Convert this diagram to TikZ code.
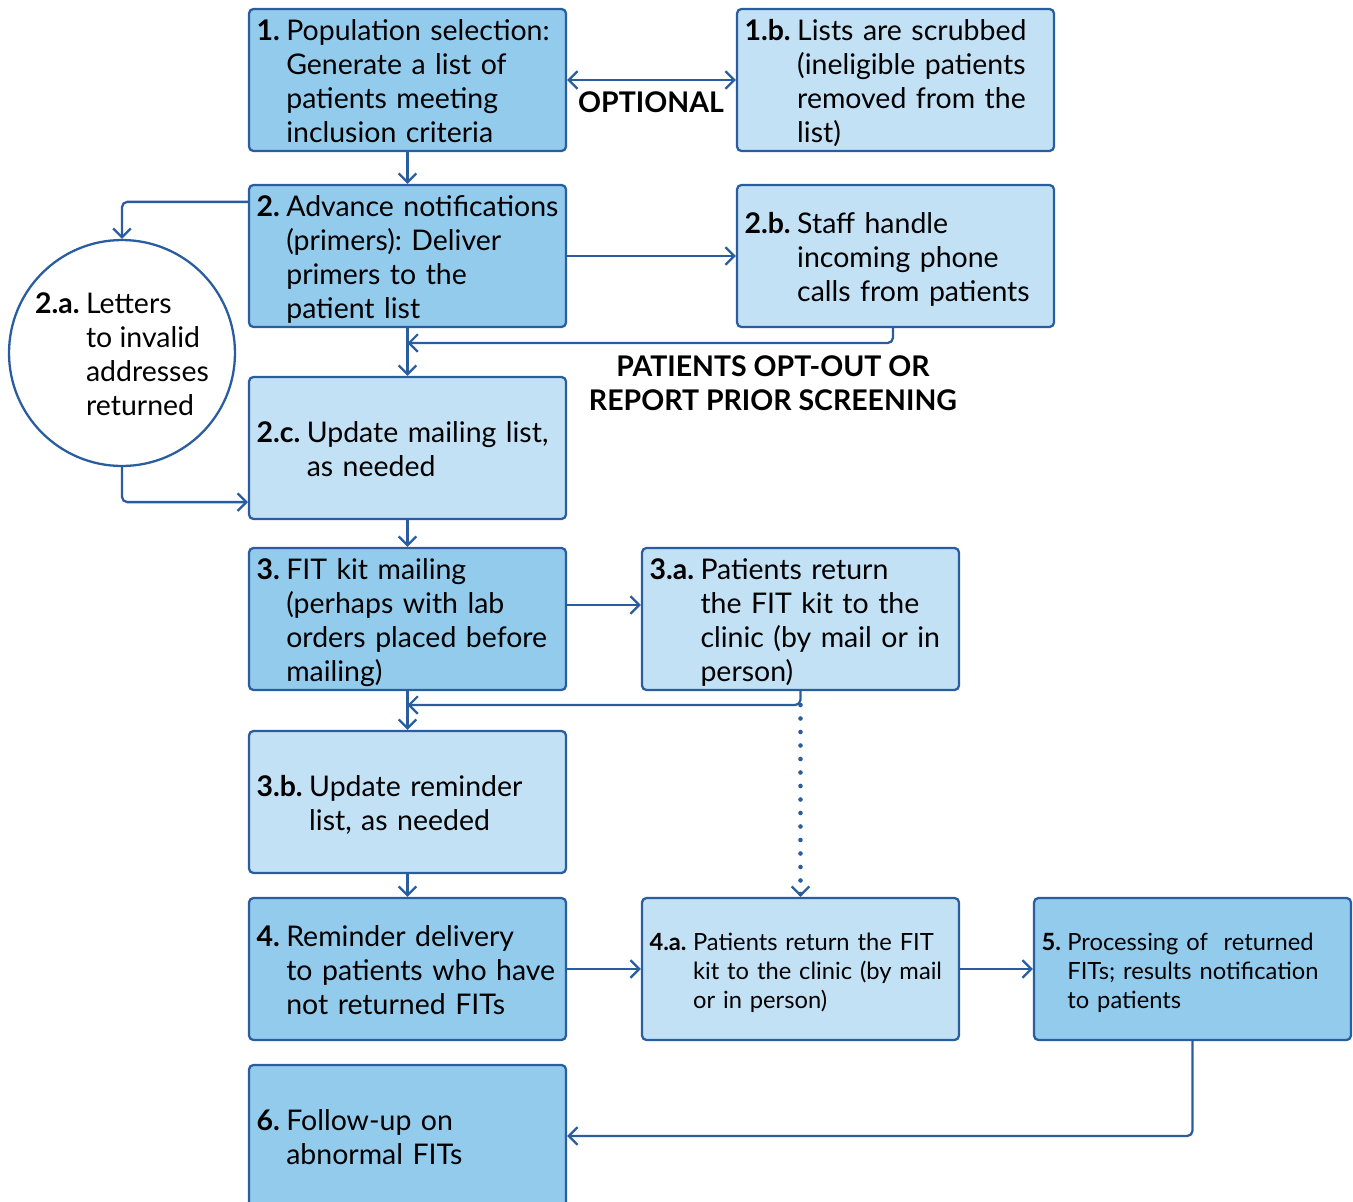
\documentclass[tikz,border=0pt]{standalone}
\usepackage{fontspec}
\setmainfont{Lato}
\frenchspacing
\usepackage{tikz}
\usetikzlibrary{arrows.meta,calc,positioning}
\definecolor{boxline}{RGB}{42,93,159}
\definecolor{darkfill}{RGB}{147,203,237}
\definecolor{lightfill}{RGB}{194,225,245}
\newcommand{\numtext}[2]{\raisebox{-0.1cm}[\height][\depth]{\textbf{#1}\hspace{0.13cm}\begin{tabular}[t]{@{}l@{}}#2\end{tabular}}}
\tikzset{stagebox/.style={draw=boxline,line width=1.3pt,rounded corners=2.5pt,minimum width=6.34cm,minimum height=2.84cm,text width=6.04cm,inner xsep=0.15cm,inner ysep=0.05cm,align=left},
  darkbox/.style={stagebox,fill=darkfill},
  lightbox/.style={stagebox,fill=lightfill},
  smalltxt/.style={font=\fontsize{13.5}{16.4}\selectfont},
  flow/.style={draw=boxline,line width=1.3pt,->,rounded corners=3pt},
  dotflow/.style={flow,line width=2.6pt,dash pattern=on 0pt off 0.27cm,line cap=round,
    -{Straight Barb[length=5pt,width=10pt,line width=1.3pt 0]}},
  bigcapt/.style={font=\fontsize{16.2}{19.3}\selectfont\bfseries,align=center}}

\begin{document}
\begin{tikzpicture}[x=0.02cm,y=-0.02cm,>={Straight Barb[length=5pt,width=10pt]},line join=round,font=\fontsize{16.2}{19.3}\selectfont]
\useasboundingbox (0,0) rectangle (1353,1201);
% --- 1: list and scrub
\node[darkbox] (b1) at (407.5,80) {\numtext{1.}{Population selection:\\Generate a list of\\patients meeting\\inclusion criteria}};
\node[lightbox] (b1b) at (895.5,80) {\numtext{1.b.}{Lists are scrubbed\\(ineligible patients\\removed from the\\list)}};
\draw[flow,<->] (b1) -- (b1b);
\node[bigcapt] (opt) at (651,102) {OPTIONAL};
% --- 2: primers, returned letters, opt-outs
\node[darkbox] (b2) at (407.5,256) {\numtext{2.}{Advance notifications\\(primers): Deliver\\primers to the\\patient list}};
\node[lightbox] (b2b) at (895.5,256) {\numtext{2.b.}{Staff handle\\incoming phone\\calls from patients}};
\node[circle,draw=boxline,line width=1.3pt,fill=white,minimum size=4.52cm,inner sep=0pt,align=left] (c2a) at (122,353) {\numtext{2.a.}{Letters\\to invalid\\addresses\\returned}};
\node[lightbox] (b2c) at (407.5,448) {\numtext{2.c.}{Update mailing list,\\as needed}};
\coordinate (j2) at (407.5,343);
\draw[flow] (b1) -- (b2);
\draw[flow] ([yshift=-0.36cm]b2.north west) -| (c2a);
\draw[flow] (c2a) |- ([yshift=0.36cm]b2c.south west);
\draw[flow] (b2) -- (b2b);
\draw[flow] (b2) -- (b2c);
\draw[flow] ([xshift=-0.05cm]b2b.south) |- (j2);
\node[bigcapt] (optout) at (773,383) {PATIENTS OPT-OUT OR\\REPORT PRIOR SCREENING};
% --- 3: kit mailing and reminders list
\node[darkbox] (b3) at (407.5,619) {\numtext{3.}{FIT kit mailing\\(perhaps with lab\\orders placed before\\mailing)}};
\node[lightbox] (b3a) at (800.5,619) {\numtext{3.a.}{Patients return\\the FIT kit to the\\clinic (by mail or in\\person)}};
\node[lightbox] (b3b) at (407.5,802) {\numtext{3.b.}{Update reminder\\list, as needed}};
\coordinate (j3) at (407.5,705);
\draw[flow] (b2c) -- (b3);
\draw[flow] ([yshift=0.28cm]b3.east) -- ([yshift=0.28cm]b3a.west);
\draw[flow] (b3) -- (b3b);
\draw[flow] (b3a) |- (j3);
% --- 4-6: reminder, processing, follow-up
\node[darkbox] (b4) at (407.5,969) {\numtext{4.}{Reminder delivery\\to patients who have\\not returned FITs}};
\node[lightbox,smalltxt] (b4a) at (800.5,969) {\numtext{4.a.}{Patients return the FIT\\kit to the clinic (by mail\\or in person)}};
\node[darkbox,smalltxt] (b5) at (1192.5,969) {\numtext{5.}{Processing of ~returned\\FITs; results notification\\to patients}};
\node[darkbox] (b6) at (407.5,1136) {\numtext{6.}{Follow-up on\\abnormal FITs}};
\draw[dotflow] (b3a.south |- j3) -- (b4a);
\draw[flow] (b3b) -- (b4);
\draw[flow] (b4) -- (b4a);
\draw[flow] (b4a) -- (b5);
\draw[flow] (b5) |- (b6);
\end{tikzpicture}
\end{document}
